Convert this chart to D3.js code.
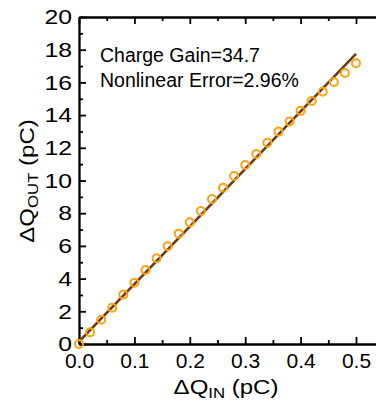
<!DOCTYPE html>
<html>
<head>
<meta charset="utf-8">
<script src="https://cdn.jsdelivr.net/npm/d3@7"></script>
<style>
  html, body { margin: 0; padding: 0; background: #fff; }
  svg { display: block; font-family: "Liberation Sans", Arial, sans-serif; }
</style>
</head>
<body>
<svg id="chart" width="376" height="401"></svg>
<script>
// measured points (pC)
const qIn = [0, 0.02, 0.04, 0.06, 0.08, 0.10, 0.12, 0.14, 0.16, 0.18, 0.20, 0.22, 0.24,
  0.26, 0.28, 0.30, 0.32, 0.34, 0.36, 0.38, 0.40, 0.42, 0.44, 0.46, 0.48, 0.50];
const qOut = [0, 0.72, 1.48, 2.22, 3.02, 3.75, 4.52, 5.25, 5.98, 6.75, 7.44, 8.14, 8.87,
  9.56, 10.28, 10.95, 11.62, 12.31, 12.99, 13.61, 14.26, 14.86, 15.43, 16.02, 16.58, 17.17];

// linear fit
const fitX = [0, 0.5];
const fitY = [0.15, 17.75];

const xMajor = [0, 0.1, 0.2, 0.3, 0.4, 0.5];
const xMinor = [0.05, 0.15, 0.25, 0.35, 0.45, 0.55];
const yMajor = [0, 2, 4, 6, 8, 10, 12, 14, 16, 18, 20];
const yMinor = [1, 3, 5, 7, 9, 11, 13, 15, 17, 19];

const notes = ['Charge Gain=34.7', 'Nonlinear Error=2.96%'];

(function () {
  'use strict';

  const svg = d3.select('#chart');
  const left = 79, top = 17, bottom = 344;
  const x = d3.scaleLinear().domain([0, 0.55]).range([left, left + 554 * 0.55]);
  const y = d3.scaleLinear().domain([0, 20]).range([bottom, top]);
  const font = '"Liberation Sans", Arial, sans-serif';
  const orange = '#FFA010';
  const brown = '#6B3A0E';

  function styleAxis(g) {
    g.attr('font-family', font);
    g.select('.domain').attr('stroke', '#000').attr('stroke-width', 2.3);
    g.selectAll('.tick line').attr('stroke', '#000').attr('stroke-width', 1.8);
  }

  function minorTicks(g) {
    g.select('.domain').remove();
    g.selectAll('.tick line').attr('stroke', '#000').attr('stroke-width', 1.8);
  }

  // minor ticks first
  svg.append('g').attr('transform', 'translate(' + left + ',0)')
    .call(d3.axisLeft(y).tickValues(yMinor).tickSize(-4).tickFormat(''))
    .call(minorTicks);
  svg.append('g').attr('transform', 'translate(0,' + bottom + ')')
    .call(d3.axisBottom(x).tickValues(xMinor).tickSize(-4).tickFormat(''))
    .call(minorTicks);
  svg.append('g').attr('transform', 'translate(0,' + top + ')')
    .call(d3.axisTop(x).tickValues(xMinor).tickSize(-4).tickFormat(''))
    .call(minorTicks);

  // y axis
  const yAxis = svg.append('g').attr('transform', 'translate(' + left + ',0)')
    .call(d3.axisLeft(y).tickValues(yMajor).tickSize(-7).tickSizeOuter(0).tickFormat(d3.format('d')))
    .call(styleAxis);
  yAxis.selectAll('.tick text')
    .attr('x', 0)
    .attr('fill', '#000')
    .attr('font-size', 21)
    .attr('transform', 'translate(-7,0) scale(1.18,1)');

  // x axis bottom
  const xAxis = svg.append('g').attr('transform', 'translate(0,' + bottom + ')')
    .call(d3.axisBottom(x).tickValues(xMajor).tickSize(-7).tickSizeOuter(0).tickPadding(9).tickFormat(d3.format('.1f')))
    .call(styleAxis);
  xAxis.selectAll('.tick text').attr('fill', '#000').attr('font-size', 21);

  // top axis
  svg.append('g').attr('transform', 'translate(0,' + top + ')')
    .call(d3.axisTop(x).tickValues(xMajor).tickSize(-7).tickSizeOuter(0).tickFormat(''))
    .call(styleAxis);

  // fit line
  const line = d3.line().x(function (d) { return x(d[0]); }).y(function (d) { return y(d[1]); });
  svg.append('path')
    .datum(d3.zip(fitX, fitY))
    .attr('d', line)
    .attr('fill', 'none')
    .attr('stroke', brown)
    .attr('stroke-width', 2.6);

  // data circles
  svg.append('g')
    .selectAll('circle')
    .data(d3.zip(qIn, qOut))
    .join('circle')
    .attr('cx', function (d) { return x(d[0]); })
    .attr('cy', function (d) { return y(d[1]); })
    .attr('r', 4)
    .attr('fill', 'none')
    .attr('stroke', orange)
    .attr('stroke-width', 2);

  // annotations
  svg.append('g')
    .selectAll('text')
    .data(notes)
    .join('text')
    .attr('x', 100)
    .attr('y', function (d, i) { return 62 + i * 25; })
    .attr('font-size', 19.5)
    .attr('fill', '#000')
    .text(function (d) { return d; });

  // axis titles
  function title(g, sub) {
    const t = g.append('text').attr('text-anchor', 'middle').attr('font-size', 20).attr('fill', '#000');
    t.append('tspan').text('\u0394Q');
    t.append('tspan').attr('font-size', 14).attr('dy', 4).text(sub);
    t.append('tspan').attr('dy', -4).text(' (pC)');
  }
  title(svg.append('g').attr('transform', 'translate(226,394) scale(1.2,1)'), 'IN');
  title(svg.append('g').attr('transform', 'translate(34,181) rotate(-90) scale(1.2,1)'), 'OUT');
})();
</script>
</body>
</html>
